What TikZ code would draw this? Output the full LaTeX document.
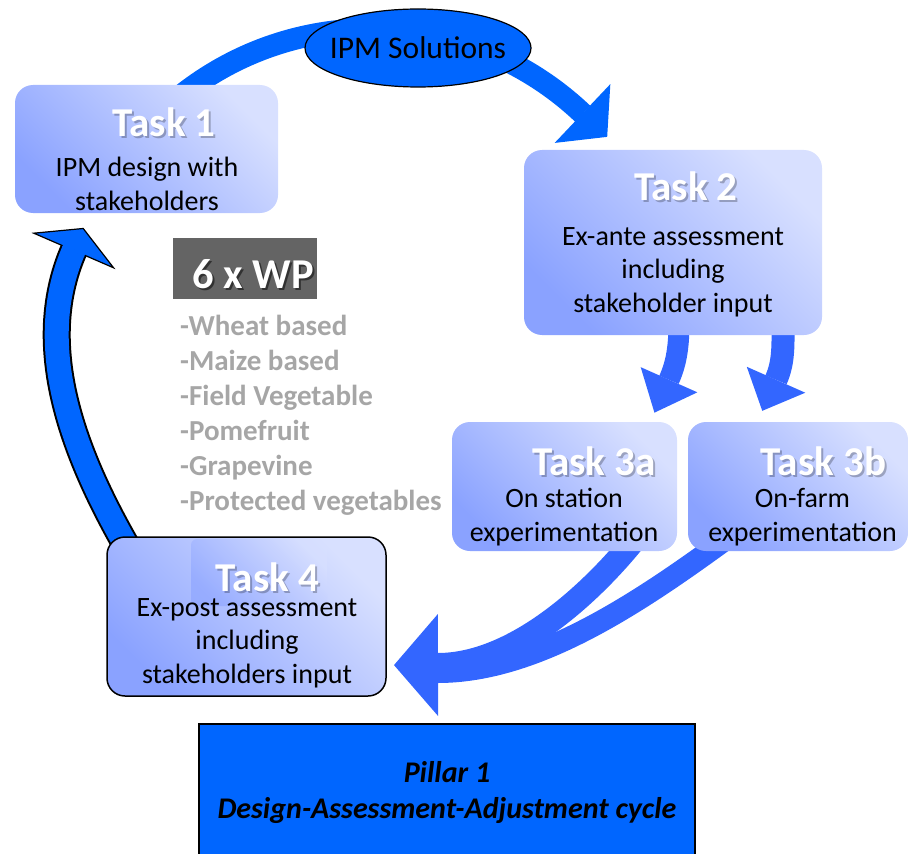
\documentclass[tikz,border=0pt]{standalone}
\usepackage{fontspec}
\setmainfont{Carlito}
\usetikzlibrary{calc,decorations.markings,backgrounds,shapes.geometric}

\definecolor{cycleblue}{HTML}{0066FF}
\definecolor{flowblue}{HTML}{3366FF}
\definecolor{taskdark}{HTML}{8AA2FF}
\definecolor{tasklight}{HTML}{D8E0FF}
\definecolor{wpgray}{HTML}{646464}
\definecolor{listgray}{HTML}{A6A6A6}

\tikzset{
  taskbox/.style={rounded corners=18pt, inner sep=0pt, bottom color=taskdark, top color=tasklight, shading angle=-45},
  tasktitle/.style={anchor=base, inner sep=0pt, text=white, font=\fontsize{41}{41}\selectfont\bfseries},
  titleshade/.style={tasktitle, text=black, opacity=0.25},
  tasktext/.style={anchor=base, inner sep=0pt, align=center, font=\fontsize{28}{33.5}\selectfont},
  flow/.style={line width=#1, line cap=butt},
  head/.style n args={3}{postaction={decorate, decoration={markings,
    mark=at position 0.999 with {\fill[#3] (0,-#2) -- (#1,0) -- (0,#2) -- cycle;}}}},
}

\begin{document}
\begin{tikzpicture}[x=1pt, y=-1pt]
\useasboundingbox (0,0) rectangle (909,853);

% boxes of the cycle
\node[taskbox, minimum width=263pt, minimum height=128pt] (t1) at (146.5,149) {};
\node[taskbox, minimum width=298pt, minimum height=185pt] (t2) at (673,242.5) {};
\node[taskbox, minimum width=225pt, minimum height=129pt] (t3a) at (564.5,486.5) {};
\node[taskbox, minimum width=220pt, minimum height=129pt] (t3b) at (798,486.5) {};
\node[taskbox, draw=black, line width=1.5pt, minimum width=279pt, minimum height=159pt] (t4) at (246.5,616.5) {};
\shade[taskbox, rounded corners=6pt, opacity=0.6] (191,539) rectangle (327,606);

\node[ellipse, draw=black, line width=1.2pt, fill=cycleblue, minimum width=226pt, minimum height=78pt,
  inner xsep=-9pt, inner ysep=0pt, font=\fontsize{31.5}{31.5}\selectfont] (sol) at (418,48) {IPM Solutions};

% titles and texts (multi-line texts sit on their last baseline)
\node[titleshade] (t1s) at (166,139) {Task 1};
\node[tasktitle] (t1h) at (164,137) {Task 1};
\node[tasktext] (t1b) at (147,210) {IPM design with\\stakeholders};

\node[titleshade] (t2s) at (688,202) {Task 2};
\node[tasktitle] (t2h) at (686,200) {Task 2};
\node[tasktext] (t2b) at (673,312) {Ex-ante assessment\\including\\stakeholder input};

\node[titleshade] (t3as) at (596,477) {Task 3a};
\node[tasktitle] (t3ah) at (594,475) {Task 3a};
\node[tasktext] (t3ab) at (564,541) {On station\\experimentation};

\node[titleshade] (t3bs) at (825.5,477) {Task 3b};
\node[tasktitle] (t3bh) at (823.5,475) {Task 3b};
\node[tasktext] (t3bb) at (802.5,541) {On-farm\\experimentation};

\node[titleshade] (t4s) at (269.5,593) {Task 4};
\node[tasktitle] (t4h) at (267.5,591) {Task 4};
\node[tasktext] (t4b) at (247,683) {Ex-post assessment\\including\\stakeholders input};

% work packages
\node[fill=wpgray, minimum width=144pt, minimum height=61pt, inner sep=0pt] (wp) at (245,268.5) {};
\node[anchor=base, inner sep=0pt, text=black, opacity=0.5, font=\fontsize{42.5}{42.5}\selectfont\bfseries] (wps) at (255,290) {6 x WP};
\node[anchor=base, inner sep=0pt, text=white, font=\fontsize{42.5}{42.5}\selectfont\bfseries] (wph) at (253,288) {6 x WP};
\node[anchor=base west, inner sep=0pt, align=left, text=listgray, font=\fontsize{29}{35}\selectfont\bfseries] (crops) at (180,510)
  {-Wheat based\\-Maize based\\-Field Vegetable\\-Pomefruit\\-Grapevine\\-Protected vegetables};

% pillar
\node[draw=black, line width=1.5pt, fill=cycleblue, minimum width=496pt, minimum height=146pt, inner sep=0pt] (p1) at (447,797) {};
\node[anchor=base, align=center, inner sep=0pt, font=\fontsize{30}{36}\selectfont\bfseries\itshape] (p1t) at (447,818)
  {Pillar 1\\Design-Assessment-Adjustment cycle};

% arrows
\begin{pgfonlayer}{background}
\draw[flow=22pt, cycleblue, head={34}{40.5}{cycleblue}]
  ($(t1.north)+(28,16)$) .. controls +(119.5,-100.3) and +(-113.2,-107.4) .. ($(t2.north west)+(59,-36)$);
\draw[flow=21pt, flowblue, head={36}{31}{flowblue}]
  ($(t2.south)+(6,-15)$) .. controls +(0,25) and +(8,-18) .. ($(t3a.north)+(104.5,-42)$);
\draw[flow=23pt, flowblue, head={34}{32}{flowblue}]
  ($(t2.south)+(110,-15)$) .. controls +(0,25) and +(8,-18) .. ($(t3b.north)+(-22,-42)$);
\draw[flow=24pt, flowblue, head={44}{51}{flowblue}]
  ($(t3a.south)+(69.5,-11)$) .. controls +(-38,47) and +(80,0) .. ($(t4.east)+(51,48.5)$);
\draw[flow=22pt, flowblue]
  ($(t3b.south)+(-68,-15)$) .. controls +(-89,65) and +(100,0) .. ($(t4.east)+(51,55.5)$);
\draw[black, line width=28pt]
  ($(t4.north west)+(28,23)$) .. controls +(-56,-95) and +(-44,101) .. ($(t1.south west)+(59,37)$);
\draw[flow=24pt, cycleblue,
  postaction={decorate, decoration={markings, mark=at position 0.999 with {
    \filldraw[fill=cycleblue, draw=black, line width=1.2pt] (0,-43.5) -- (24,0) -- (0,43.5) -- cycle;
    \fill[cycleblue] (-1.5,-12) rectangle (1.5,12);}}}]
  ($(t4.north west)+(28,23)$) .. controls +(-56,-95) and +(-44,101) .. ($(t1.south west)+(59,37)$);
\end{pgfonlayer}
\end{tikzpicture}
\end{document}
